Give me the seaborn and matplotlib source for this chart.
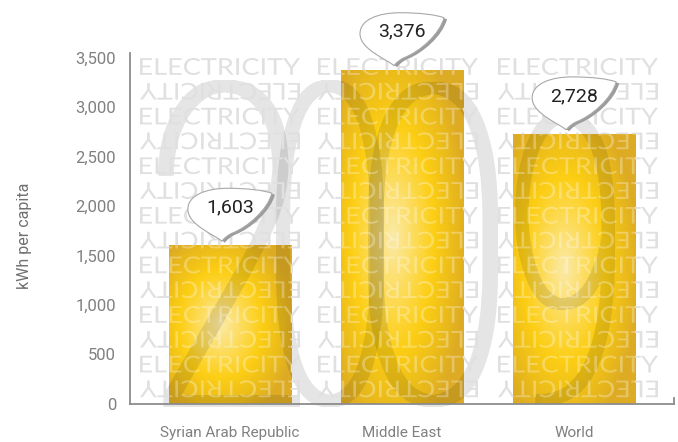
import numpy as np
import matplotlib
matplotlib.use("Agg")
import matplotlib.pyplot as plt
import seaborn as sns
from matplotlib import patheffects
from matplotlib.colors import LinearSegmentedColormap, to_rgb
from matplotlib.path import Path
from matplotlib.patches import PathPatch
from matplotlib.ticker import FuncFormatter
from matplotlib.transforms import (Affine2D, IdentityTransform, ScaledTranslation,
                                   TransformedPath)

# ---- data -------------------------------------------------------------
regions = ["Syrian Arab Republic", "Middle East", "World"]
kwh_per_capita = [1603, 3376, 2728]
y_ticks = [0, 500, 1000, 1500, 2000, 2500, 3000, 3500]
y_label = "kWh per capita"
watermark_word = "ELECTRICITY"
watermark_year = "2009"

# ---- figure -----------------------------------------------------------
W, H, DPI = 678, 442, 100
sns.set_theme(style="white")
plt.rcParams["font.family"] = ["Roboto", "DejaVu Sans"]

fig = plt.figure(figsize=(W / DPI, H / DPI), dpi=DPI)
ax = fig.add_axes([130 / W, 38 / H, 544 / W, 351 / H])


class FitFill(patheffects.AbstractPathEffect):
    """Fill the glyph outlines scaled into a fixed pixel box.

    ``smear`` widens the strokes horizontally by filling the union of a few
    shifted copies; ``clip`` restricts the fill to a region.
    """

    def __init__(self, box, color, alpha=1.0, clip=None, smear=0.0):
        super().__init__()
        self.box, self.rgb, self.alpha = box, to_rgb(color), alpha
        self.clip, self.smear = clip, smear

    def draw_path(self, renderer, gc, tpath, affine, rgbFace=None):
        bb = tpath.get_extents(affine)
        x0, y0, x1, y1 = self.box
        w = (x1 - x0) - self.smear
        fit = (Affine2D().translate(-bb.x0, -bb.y0)
               .scale(w / bb.width, (y1 - y0) / bb.height)
               .translate(x0, y0))
        dpath = (affine + fit).transform_path(tpath)
        if self.smear > 0:
            n = max(2, int(np.ceil(self.smear / 1.5)) + 1)
            shifts = np.linspace(0, self.smear, n)
            dpath = Path.make_compound_path(
                *[Path(dpath.vertices + [dx, 0], dpath.codes) for dx in shifts])
        gc0 = renderer.new_gc()
        gc0.copy_properties(gc)
        gc0.set_linewidth(0)
        gc0.set_alpha(self.alpha)
        if self.clip is not None:
            gc0.set_clip_path(self.clip)
        renderer.draw_path(gc0, dpath, IdentityTransform(), self.rgb)
        gc0.restore()


def px_box(x0, top, x1, bottom):
    """Box given in top-left pixel coordinates -> display coordinates."""
    return (x0, H - bottom, x1, H - top)


# ---- bars ---------------------------------------------------------------
sns.barplot(x=regions, y=kwh_per_capita, color="#e2b324", saturation=1,
            width=0.71, ax=ax, zorder=1)
bars = list(ax.patches)

gold = LinearSegmentedColormap.from_list(
    "gold", [(0.0, "#fbeaa8"), (0.28, "#fddc5c"), (0.55, "#fcce14"),
             (0.85, "#e8b81c"), (1.0, "#ddab24")])
u = np.linspace(0, 1, 120)
v = np.linspace(0, 1, 240)
U, V = np.meshgrid(u, v)
radial = np.clip(np.hypot((U - 0.42) / 0.62, (V - 0.5) / 0.62), 0, 1)
for patch in bars:
    x0, y0 = patch.get_x(), patch.get_y()
    bw, bh = patch.get_width(), patch.get_height()
    im = ax.imshow(radial, cmap=gold, vmin=0, vmax=1, origin="upper",
                   extent=(x0, x0 + bw, y0, y0 + bh), aspect="auto",
                   interpolation="bilinear", zorder=1.5)
    im.set_clip_path(patch)

ax.set_xlim(-0.58, 2.58)
ax.set_ylim(0, 3545)

# clip regions: inside the bars, and everything but the bars
inside_v, inside_c, outside_v, outside_c = [], [], [], []
outside_v += [(-5, -5000), (5, -5000), (5, 9000), (-5, 9000), (-5, -5000)]
outside_c += [Path.MOVETO, Path.LINETO, Path.LINETO, Path.LINETO, Path.CLOSEPOLY]
for patch in bars:
    x0, y0 = patch.get_x(), patch.get_y()
    x1, y1 = x0 + patch.get_width(), y0 + patch.get_height()
    inside_v += [(x0, y0), (x1, y0), (x1, y1), (x0, y1), (x0, y0)]
    inside_c += [Path.MOVETO, Path.LINETO, Path.LINETO, Path.LINETO, Path.CLOSEPOLY]
    outside_v += [(x0, y0), (x0, y1), (x1, y1), (x1, y0), (x0, y0)]
    outside_c += [Path.MOVETO, Path.LINETO, Path.LINETO, Path.LINETO, Path.CLOSEPOLY]
clip_inside = TransformedPath(Path(inside_v, inside_c), ax.transData)
clip_outside = TransformedPath(Path(outside_v, outside_c), ax.transData)

# ---- background lettering ----------------------------------------------
word_kw = dict(family=["Lato", "DejaVu Sans"], weight="normal", fontsize=12)
col_lefts = [140, 318, 498]
col_width = 160
row_top0, row_step, cap = 58, 24.8, 17
for i in range(14):
    top = row_top0 + row_step * i
    flipped = i % 2 == 1
    for left in col_lefts:
        cx = left + col_width / 2
        box = px_box(left, top, left + col_width, top + cap)
        effects = [FitFill(box, "#e0e0e0", 1.0, clip_outside),
                   FitFill(box, "white", 0.3, clip_inside)]
        ax.text(cx, H - (top if flipped else top + cap), watermark_word,
                transform=IdentityTransform(), ha="center", va="baseline",
                rotation=180 if flipped else 0, rotation_mode="anchor",
                zorder=3, path_effects=effects, **word_kw)

# large year figures, each stretched into its own box
year_kw = dict(family=["Roboto", "DejaVu Sans"], weight="light", fontsize=24)
digit_boxes = [(158, 80, 300, 407), (276, 80, 384, 407),
               (368, 82, 498, 407), (515, 112, 615, 405)]
for digit, (l, t, r, b) in zip(watermark_year, digit_boxes):
    ax.text((l + r) / 2, H - (t + b) / 2, digit, transform=IdentityTransform(),
            ha="center", va="center", zorder=2,
            path_effects=[FitFill(px_box(l, t, r, b), "black", 0.1, smear=8)],
            **year_kw)

# ---- value callouts -------------------------------------------------------
bubble_verts = [(0, 0), (-6, 6), (-34, 16), (-34, 32),
                (-34, 46), (-16, 53), (6, 53),
                (26, 53), (42, 51), (50, 48),
                (46, 32), (26, 14), (10, 8),
                (6, 6), (2, 3), (0, 0)]
bubble_codes = [Path.MOVETO] + [Path.CURVE4] * 15
bubble = Path(bubble_verts, bubble_codes)

for i, val in enumerate(kwh_per_capita):
    anchor = ScaledTranslation(i, val, ax.transData)
    shadow = PathPatch(bubble, facecolor="#9c9c9c", edgecolor="none",
                       transform=Affine2D().translate(-5, 2.5) + anchor,
                       zorder=6, clip_on=False)
    body = PathPatch(bubble, facecolor="white", edgecolor="#a8a8a8", lw=0.8,
                     transform=Affine2D().translate(-8, 4) + anchor,
                     zorder=7, clip_on=False)
    ax.add_artist(shadow)
    ax.add_artist(body)
    ax.annotate(f"{val:,}", xy=(i, val), xytext=(0, 38), textcoords="offset pixels",
                ha="center", va="center", fontsize=14, color="#222222",
                zorder=8, annotation_clip=False)

# ---- axes styling -------------------------------------------------------
ax.set_yticks(y_ticks)
ax.yaxis.set_major_formatter(FuncFormatter(lambda y, _: f"{int(y):,}"))
ax.tick_params(axis="both", length=0, labelcolor="#808080")
ax.tick_params(axis="y", pad=10, labelsize=12)
ax.tick_params(axis="x", pad=16, labelsize=11)
ax.set_xlabel("")
ax.set_ylabel(y_label, fontsize=11.5, color="#707070")
ax.yaxis.set_label_coords(-0.180, 0.48)

ax.spines["top"].set_visible(False)
for side in ["left", "bottom", "right"]:
    ax.spines[side].set_color("#8c8c8c")
    ax.spines[side].set_linewidth(1.3)
ax.spines["right"].set_bounds(0, 60)
ax.grid(False)

fig.savefig("out.png", dpi=DPI)
